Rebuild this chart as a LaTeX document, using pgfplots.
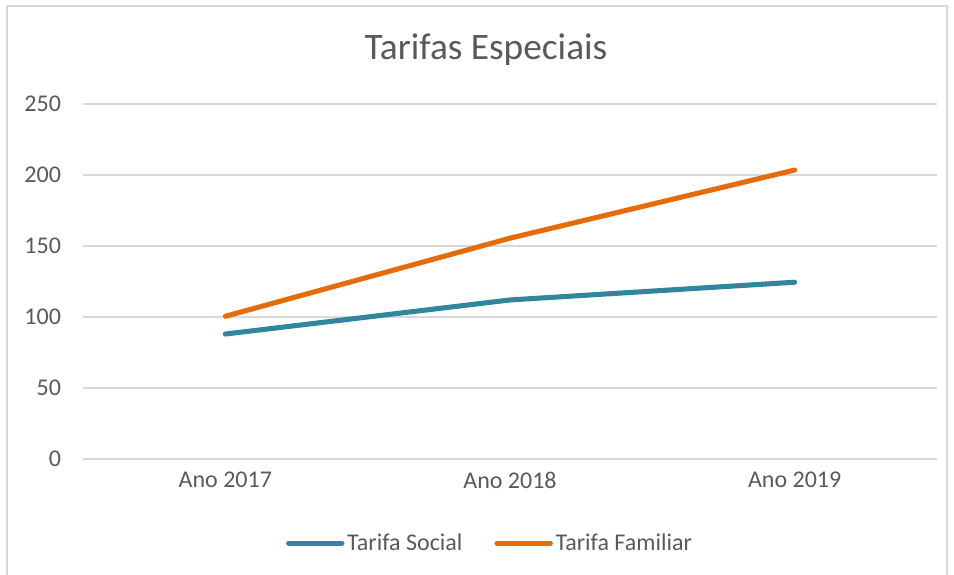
\documentclass[border=0pt]{standalone}
\usepackage{fontspec}
\setmainfont{Carlito}
\usepackage{pgfplots}
\pgfplotsset{compat=1.18}
\definecolor{social}{HTML}{31859C}
\definecolor{familiar}{HTML}{E46C0A}
\definecolor{txt}{HTML}{595959}
\definecolor{gridc}{HTML}{D9D9D9}
\begin{document}
\begin{tikzpicture}
  \useasboundingbox (0pt,0pt) rectangle (715.5pt,431.25pt);
  \draw[gridc, line width=1.2pt] (5.25pt,-7.5pt) rectangle (710.25pt,426.75pt);
  \node[txt, font=\fontsize{28}{32}\selectfont] at (364.5pt,393.75pt) {Tarifas Especiais};
  \begin{axis}[
    at={(62.25pt,87pt)}, anchor=south west,
    scale only axis, width=640.5pt, height=266.25pt,
    xmin=-0.5, xmax=2.5, ymin=0, ymax=250,
    xtick={0,1,2}, xticklabels={Ano 2017, Ano 2018, Ano 2019},
    ytick={0,50,...,250},
    axis line style={draw=none}, tick style={draw=none},
    ymajorgrids, grid style={gridc, line width=1.1pt},
    /pgf/number format/assume math mode=true,
    ticklabel style={txt, font=\fontsize{18}{22}\selectfont},
    yticklabel style={xshift=-13pt},
    xticklabel style={yshift=-6pt},
    legend columns=2,
    legend style={at={(0.477,-0.237)}, anchor=center, draw=none, fill=none,
      font=\fontsize{18}{22}\selectfont, text=txt,
      /tikz/every even column/.append style={column sep=22pt}},
    legend image code/.code={\draw[#1, line cap=round] (0,0) -- (40pt,0);},
  ]
    \addplot[social, line width=3.8pt, line cap=round] coordinates {(0,88) (1,112) (2,124.5)};
    \addlegendentry{Tarifa Social}
    \addplot[familiar, line width=3.8pt, line cap=round] coordinates {(0,100.5) (1,155.5) (2,203.5)};
    \addlegendentry{Tarifa Familiar}
  \end{axis}
\end{tikzpicture}
\end{document}
